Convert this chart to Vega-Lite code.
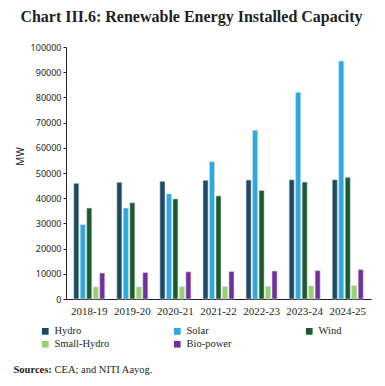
{
  "$schema": "https://vega.github.io/schema/vega-lite/v6.json",
  "autosize": {"type": "none"},
  "width": 305,
  "height": 252,
  "padding": {"left": 66, "top": 47, "right": 14, "bottom": 87},
  "background": "white",
  "title": {
    "text": "Chart III.6: Renewable Energy Installed Capacity",
    "font": "Liberation Serif",
    "fontSize": 16,
    "fontWeight": "bold",
    "color": "#231f20",
    "anchor": "middle",
    "dx": -27,
    "offset": 18
  },
  "data": {
    "values": [
      {"year": "2018-19", "source": "Hydro", "mw": 45900},
      {"year": "2018-19", "source": "Solar", "mw": 29500},
      {"year": "2018-19", "source": "Wind", "mw": 36100},
      {"year": "2018-19", "source": "Small-Hydro", "mw": 4800},
      {"year": "2018-19", "source": "Bio-power", "mw": 10300},
      {"year": "2019-20", "source": "Hydro", "mw": 46300},
      {"year": "2019-20", "source": "Solar", "mw": 36100},
      {"year": "2019-20", "source": "Wind", "mw": 38200},
      {"year": "2019-20", "source": "Small-Hydro", "mw": 4800},
      {"year": "2019-20", "source": "Bio-power", "mw": 10500},
      {"year": "2020-21", "source": "Hydro", "mw": 46700},
      {"year": "2020-21", "source": "Solar", "mw": 41700},
      {"year": "2020-21", "source": "Wind", "mw": 39700},
      {"year": "2020-21", "source": "Small-Hydro", "mw": 4900},
      {"year": "2020-21", "source": "Bio-power", "mw": 10800},
      {"year": "2021-22", "source": "Hydro", "mw": 47100},
      {"year": "2021-22", "source": "Solar", "mw": 54500},
      {"year": "2021-22", "source": "Wind", "mw": 40900},
      {"year": "2021-22", "source": "Small-Hydro", "mw": 4950},
      {"year": "2021-22", "source": "Bio-power", "mw": 10900},
      {"year": "2022-23", "source": "Hydro", "mw": 47200},
      {"year": "2022-23", "source": "Solar", "mw": 67000},
      {"year": "2022-23", "source": "Wind", "mw": 43100},
      {"year": "2022-23", "source": "Small-Hydro", "mw": 5000},
      {"year": "2022-23", "source": "Bio-power", "mw": 11100},
      {"year": "2023-24", "source": "Hydro", "mw": 47300},
      {"year": "2023-24", "source": "Solar", "mw": 82000},
      {"year": "2023-24", "source": "Wind", "mw": 46400},
      {"year": "2023-24", "source": "Small-Hydro", "mw": 5200},
      {"year": "2023-24", "source": "Bio-power", "mw": 11250},
      {"year": "2024-25", "source": "Hydro", "mw": 47300},
      {"year": "2024-25", "source": "Solar", "mw": 94400},
      {"year": "2024-25", "source": "Wind", "mw": 48300},
      {"year": "2024-25", "source": "Small-Hydro", "mw": 5300},
      {"year": "2024-25", "source": "Bio-power", "mw": 11650}
    ]
  },
  "layer": [
    {
      "mark": {"type": "bar", "stroke": "#d9d9d9", "strokeWidth": 0.6},
      "encoding": {
        "x": {
          "field": "year",
          "type": "nominal",
          "sort": null,
          "scale": {"paddingInner": 0.28, "paddingOuter": 0.18},
          "axis": {
            "title": "CEA; and NITI Aayog.",
            "titleFont": "Liberation Serif",
            "titleFontSize": 10.5,
            "titleFontWeight": "normal",
            "titleColor": "#231f20",
            "titleAnchor": "start",
            "titleAlign": "left",
            "titleBaseline": "alphabetic",
            "titleX": -12,
            "titleY": 73,
            "labelAngle": 0,
            "labelFont": "Liberation Serif",
            "labelFontSize": 11,
            "labelColor": "#231f20",
            "labelPadding": 6,
            "ticks": false,
            "domainColor": "#231f20",
            "domainWidth": 1
          }
        },
        "xOffset": {
          "field": "source",
          "type": "nominal",
          "sort": ["Hydro", "Solar", "Wind", "Small-Hydro", "Bio-power"],
          "scale": {"paddingInner": 0.22, "paddingOuter": 0}
        },
        "y": {
          "field": "mw",
          "type": "quantitative",
          "scale": {"domain": [0, 100000], "nice": false},
          "axis": {
            "title": "MW",
            "titleFont": "Noto Sans",
            "titleFontSize": 10,
            "titleFontWeight": "normal",
            "titleColor": "#231f20",
            "titleX": -46,
            "titleY": 109,
            "titleAngle": -90,
            "titleAlign": "center",
            "titleBaseline": "middle",
            "values": [0, 10000, 20000, 30000, 40000, 50000, 60000, 70000, 80000, 90000, 100000],
            "format": "d",
            "labelFont": "Noto Sans",
            "labelFontSize": 9,
            "labelColor": "#231f20",
            "labelPadding": 2,
            "tickSize": 3,
            "tickColor": "#231f20",
            "domainColor": "#231f20",
            "grid": false
          }
        },
        "color": {
          "field": "source",
          "type": "nominal",
          "sort": ["Hydro", "Solar", "Wind", "Small-Hydro", "Bio-power"],
          "scale": {
            "domain": ["Hydro", "Solar", "Wind", "Small-Hydro", "Bio-power"],
            "range": ["#1b4a63", "#29abe2", "#1b5a2e", "#92d36e", "#7030a0"]
          },
          "legend": {
            "title": null,
            "orient": "none",
            "legendX": -26,
            "legendY": 279,
            "direction": "horizontal",
            "columns": 3,
            "gridAlign": "all",
            "columnPadding": 62,
            "rowPadding": 2,
            "symbolType": "square",
            "symbolSize": 45,
            "symbolStrokeWidth": 0,
            "labelFont": "Liberation Serif",
            "labelFontSize": 10.5,
            "labelColor": "#231f20",
            "labelOffset": 4
          }
        }
      }
    },
    {
      "mark": {"type": "rule", "opacity": 0},
      "encoding": {
        "y": {
          "aggregate": "max",
          "field": "mw",
          "type": "quantitative",
          "scale": {"domain": [0, 100000], "nice": false},
          "axis": {
            "orient": "right",
            "title": "Sources:",
            "titleFont": "Liberation Serif",
            "titleFontSize": 10.5,
            "titleFontWeight": "bold",
            "titleColor": "#231f20",
            "titleAngle": 0,
            "titleAlign": "left",
            "titleBaseline": "alphabetic",
            "titleX": -358,
            "titleY": 325,
            "labels": false,
            "ticks": false,
            "domain": false,
            "grid": false
          }
        }
      }
    }
  ],
  "resolve": {"axis": {"y": "independent"}},
  "config": {
    "view": {"stroke": null}
  }
}
